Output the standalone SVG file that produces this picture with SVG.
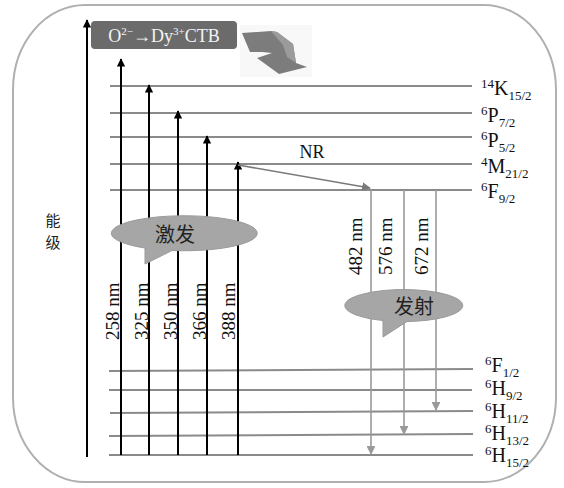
<svg xmlns="http://www.w3.org/2000/svg" width="564" height="488" viewBox="0 0 564 488">
  <defs>
    <style>
      .frame { fill: #ffffff; stroke: #b0b0b0; stroke-width: 2; }
      .level { stroke: #8a8a8a; stroke-width: 2; fill: none; }
      .exc { stroke: #000000; stroke-width: 2; fill: none; }
      .emi { stroke: #9a9a9a; stroke-width: 1.6; fill: none; }
      .nr { stroke: #7a7a7a; stroke-width: 1.6; fill: none; }
      text.serif { font-family: "Liberation Serif", "Times New Roman", serif; fill: #111111; }
      text.lab { font-size: 20px; }
      text.nm { font-size: 19px; }
      text.cjk { font-family: "Noto Sans CJK SC", "Noto Sans", sans-serif; fill: #222222; }
      .bubble { fill: #a6a6a6; stroke: #999999; stroke-width: 1; }
    </style>
    <marker id="ahBlack" viewBox="0 0 10 10" refX="9" refY="5" markerWidth="4.2" markerHeight="4.2" orient="auto" markerUnits="strokeWidth">
      <path d="M0,0 L10,5 L0,10 z" fill="#000000"/>
    </marker>
    <marker id="ahGray" viewBox="0 0 10 10" refX="9" refY="5" markerWidth="5.5" markerHeight="5.5" orient="auto" markerUnits="strokeWidth">
      <path d="M0,0 L10,5 L0,10 z" fill="#9a9a9a"/>
    </marker>
    <marker id="ahNR" viewBox="0 0 10 10" refX="9" refY="5" markerWidth="5.5" markerHeight="5.5" orient="auto" markerUnits="strokeWidth">
      <path d="M0,0 L10,5 L0,10 z" fill="#7a7a7a"/>
    </marker>
  </defs>

  <!-- outer frame -->
  <rect class="frame" x="13" y="5" width="543" height="477" rx="72" ry="85"/>

  <!-- energy axis -->
  <g id="axis">
    <line class="exc" x1="87" y1="457" x2="87" y2="20" stroke-width="2.6" marker-end="url(#ahBlack)"/>
    <text class="cjk" x="53" y="226" font-size="15" text-anchor="middle">能<tspan x="53" y="248">级</tspan></text>
  </g>

  <!-- charge transfer band -->
  <g id="ctb">
    <rect x="91" y="21" width="146" height="28" rx="4" fill="#6b6b6b"/>
    <text class="serif" x="164" y="42" font-size="18" text-anchor="middle" style="fill:#f4f4f4">O<tspan font-size="11" dy="-7">2−</tspan><tspan dy="7">→Dy</tspan><tspan font-size="11" dy="-7">3+</tspan><tspan dy="7">CTB</tspan></text>
    <rect x="240" y="25" width="72" height="52" fill="#f8f8f8"/>
    <polygon points="242,33 271,31 277,32 293,44 296,63 307,67 279,74 257,58 272,53 262,52 250,52" fill="#7c7c7c"/>
    <polygon points="271,31 277,32 293,44 296,63 287,57 283,45" fill="#9b9b9b"/>
  </g>

  <!-- energy levels -->
  <g id="levels">
    <line class="level" x1="110" y1="86" x2="472" y2="86"/>
    <line class="level" x1="110" y1="113" x2="472" y2="113"/>
    <line class="level" x1="110" y1="137" x2="472" y2="137"/>
    <line class="level" x1="110" y1="164" x2="472" y2="164"/>
    <line class="level" x1="110" y1="190" x2="472" y2="190"/>
    <line class="level" x1="109" y1="371" x2="473" y2="369"/>
    <line class="level" x1="109" y1="390" x2="472" y2="390"/>
    <line class="level" x1="110" y1="413" x2="473" y2="411"/>
    <line class="level" x1="109" y1="436" x2="473" y2="434"/>
    <line class="level" x1="109" y1="455" x2="473" y2="455"/>
  </g>

  <!-- level labels -->
  <g id="level-labels">
    <text class="serif lab" x="481" y="95"><tspan font-size="13" dy="-7">14</tspan><tspan dy="7">K</tspan><tspan font-size="13" dy="5">15/2</tspan></text>
    <text class="serif lab" x="481" y="122"><tspan font-size="13" dy="-7">6</tspan><tspan dy="7">P</tspan><tspan font-size="13" dy="5">7/2</tspan></text>
    <text class="serif lab" x="481" y="147"><tspan font-size="13" dy="-7">6</tspan><tspan dy="7">P</tspan><tspan font-size="13" dy="5">5/2</tspan></text>
    <text class="serif lab" x="481" y="173"><tspan font-size="13" dy="-7">4</tspan><tspan dy="7">M</tspan><tspan font-size="13" dy="5">21/2</tspan></text>
    <text class="serif lab" x="481" y="198"><tspan font-size="13" dy="-7">6</tspan><tspan dy="7">F</tspan><tspan font-size="13" dy="5">9/2</tspan></text>
    <text class="serif lab" x="485" y="372"><tspan font-size="13" dy="-7">6</tspan><tspan dy="7">F</tspan><tspan font-size="13" dy="5">1/2</tspan></text>
    <text class="serif lab" x="485" y="395"><tspan font-size="13" dy="-7">6</tspan><tspan dy="7">H</tspan><tspan font-size="13" dy="5">9/2</tspan></text>
    <text class="serif lab" x="485" y="418"><tspan font-size="13" dy="-7">6</tspan><tspan dy="7">H</tspan><tspan font-size="13" dy="5">11/2</tspan></text>
    <text class="serif lab" x="485" y="440"><tspan font-size="13" dy="-7">6</tspan><tspan dy="7">H</tspan><tspan font-size="13" dy="5">13/2</tspan></text>
    <text class="serif lab" x="485" y="462"><tspan font-size="13" dy="-7">6</tspan><tspan dy="7">H</tspan><tspan font-size="13" dy="5">15/2</tspan></text>
  </g>

  <!-- transitions -->
  <g id="connectors">
    <line class="exc" x1="121" y1="455" x2="121" y2="59" marker-end="url(#ahBlack)"/>
    <line class="exc" x1="149" y1="455" x2="149" y2="85" marker-end="url(#ahBlack)"/>
    <line class="exc" x1="178" y1="455" x2="178" y2="111" marker-end="url(#ahBlack)"/>
    <line class="exc" x1="207" y1="455" x2="207" y2="136" marker-end="url(#ahBlack)"/>
    <line class="exc" x1="238" y1="455" x2="238" y2="162" marker-end="url(#ahBlack)"/>
    <line class="nr" x1="238" y1="165" x2="370" y2="188" marker-end="url(#ahNR)"/>
    <line class="emi" x1="371" y1="190" x2="371" y2="454" marker-end="url(#ahGray)"/>
    <line class="emi" x1="404" y1="190" x2="404" y2="434" marker-end="url(#ahGray)"/>
    <line class="emi" x1="436" y1="190" x2="436" y2="410" marker-end="url(#ahGray)"/>
  </g>

  <!-- wavelength labels -->
  <g id="wavelengths">
    <text class="serif nm" transform="translate(118.5,340) rotate(-90)">258 nm</text>
    <text class="serif nm" transform="translate(147.5,340) rotate(-90)">325 nm</text>
    <text class="serif nm" transform="translate(176.5,340) rotate(-90)">350 nm</text>
    <text class="serif nm" transform="translate(205.5,340) rotate(-90)">366 nm</text>
    <text class="serif nm" transform="translate(235,340) rotate(-90)">388 nm</text>
    <text class="serif nm" transform="translate(361.5,275) rotate(-90)">482 nm</text>
    <text class="serif nm" transform="translate(392,275) rotate(-90)">576 nm</text>
    <text class="serif nm" transform="translate(428,275) rotate(-90)">672 nm</text>
  </g>

  <g id="nr-label">
    <text class="serif" x="312" y="158" font-size="18" text-anchor="middle">NR</text>
  </g>

  <!-- excitation callout -->
  <g id="excitation-callout">
    <path class="bubble" d="M 145 248 A 73 17.5 0 1 1 172 250.5 L 145 264 Z"/>
    <text class="cjk" x="175" y="242" font-size="20" text-anchor="middle">激发</text>
  </g>

  <!-- emission callout -->
  <g id="emission-callout">
    <path class="bubble" d="M 383 320.5 A 59 16 0 1 1 407 321.5 L 383 337 Z"/>
    <text class="cjk" x="414" y="314" font-size="20" text-anchor="middle">发射</text>
  </g>
</svg>
